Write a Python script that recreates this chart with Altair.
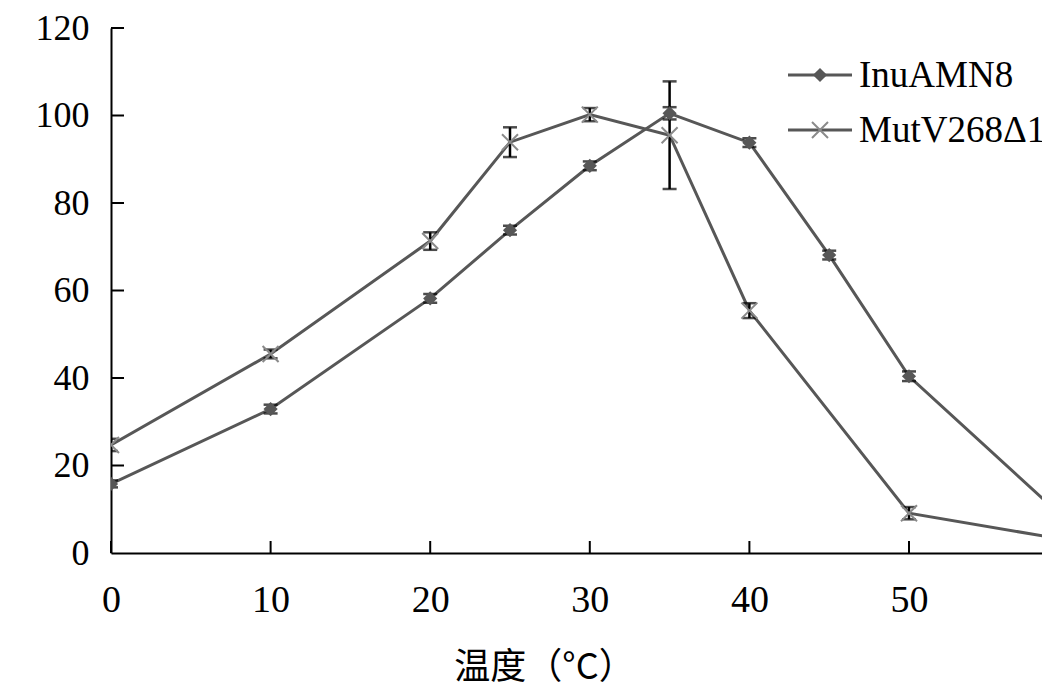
import altair as alt
import pandas as pd

# ---- data ----
temps_inu = [0, 10, 20, 25, 30, 35, 40, 45, 50, 60]
inu_vals = [15.8, 32.9, 58.2, 73.8, 88.5, 100.5, 93.8, 68.1, 40.4, 7.0]
inu_err = [0.8, 1.0, 1.0, 1.0, 1.0, 1.4, 1.0, 1.0, 1.1, 1.0]

temps_mut = [0, 10, 20, 25, 30, 35, 40, 50, 60]
mut_vals = [24.7, 45.5, 71.3, 93.9, 100.2, 95.5, 55.4, 9.1, 2.9]
mut_err = [1.4, 1.0, 2.0, 3.4, 1.5, 12.3, 1.7, 1.4, 1.0]

series_names = ["InuAMN8", "MutV268Δ13"]
x_ticks = [0, 10, 20, 30, 40, 50]
y_ticks = [20, 40, 60, 80, 100, 120]
x_title = "温度（°C）"

# ---- build tables ----
rows = []
for t, v, e in zip(temps_inu, inu_vals, inu_err):
    rows.append({"temp": t, "value": v, "lo": v - e, "hi": v + e, "series": series_names[0]})
for t, v, e in zip(temps_mut, mut_vals, mut_err):
    rows.append({"temp": t, "value": v, "lo": v - e, "hi": v + e, "series": series_names[1]})
df = pd.DataFrame(rows)
xt = pd.DataFrame({"t": x_ticks})
yt = pd.DataFrame({"t": y_ticks})

W, H = 931, 525
XMAX = W / 15.96

serif = "Liberation Serif"
LINE = "#575757"

xs = alt.Scale(domain=[0, XMAX], nice=False, zero=False)
ys = alt.Scale(domain=[0, 120], nice=False)

X = alt.X("temp:Q", scale=xs,
          axis=alt.Axis(values=x_ticks, title=x_title, format="d",
                        titleX=433, titleY=114, titleBaseline="middle", titleAlign="center"))
Y = alt.Y("value:Q", scale=ys,
          axis=alt.Axis(values=[0] + y_ticks, title=None, format="d", labelFontSize=36))

base = alt.Chart(df)

lines = base.mark_line(color=LINE, strokeWidth=3, clip=True).encode(
    x=X, y=Y, detail="series:N")

err_rule = base.mark_rule(color="black", strokeWidth=2.5, clip=True).encode(
    x=alt.X("temp:Q", scale=xs), y=alt.Y("lo:Q", scale=ys), y2="hi:Q")
cap_lo = base.mark_tick(color="black", orient="horizontal", size=14, thickness=2.5, clip=True).encode(
    x=alt.X("temp:Q", scale=xs), y=alt.Y("lo:Q", scale=ys))
cap_hi = base.mark_tick(color="black", orient="horizontal", size=14, thickness=2.5, clip=True).encode(
    x=alt.X("temp:Q", scale=xs), y=alt.Y("hi:Q", scale=ys))

XSHAPE = "M-1,-1L1,1M-1,1L1,-1"

pts_inu = base.transform_filter(alt.datum.series == series_names[0]).mark_point(
    shape="diamond", filled=True, size=200, color=LINE, opacity=1, clip=True).encode(
    x=alt.X("temp:Q", scale=xs), y=alt.Y("value:Q", scale=ys))
pts_mut = base.transform_filter(alt.datum.series == series_names[1]).mark_point(
    shape=XSHAPE, filled=False, size=256, stroke="#8a8a8a", strokeWidth=2, opacity=1, clip=True).encode(
    x=alt.X("temp:Q", scale=xs), y=alt.Y("value:Q", scale=ys))

xtick_marks = alt.Chart(xt).mark_rule(color="black", strokeWidth=2).encode(
    x=alt.X("t:Q", scale=xs), y=alt.value(H), y2=alt.value(H - 12))
ytick_marks = alt.Chart(yt).mark_rule(color="black", strokeWidth=2).encode(
    y=alt.Y("t:Q", scale=ys), x=alt.value(0), x2=alt.value(13))

# ---- legend ----
leg = []
leg_y = [47, 102]
for i, name in enumerate(series_names):
    d = pd.DataFrame({"name": [name]})
    c = alt.Chart(d)
    leg.append(c.mark_rule(color=LINE, strokeWidth=3).encode(
        x=alt.value(677), x2=alt.value(741), y=alt.value(leg_y[i])))
    if i == 0:
        leg.append(c.mark_point(shape="diamond", filled=True, size=200, color=LINE, opacity=1).encode(
            x=alt.value(709), y=alt.value(leg_y[i])))
    else:
        leg.append(c.mark_point(shape=XSHAPE, filled=False, size=256, stroke="#8a8a8a",
                                strokeWidth=2, opacity=1).encode(
            x=alt.value(709), y=alt.value(leg_y[i])))
    leg.append(c.mark_text(align="left", baseline="middle", font=serif, fontSize=37,
                           color="black").encode(
        x=alt.value(748), y=alt.value(leg_y[i] + 1), text="name:N"))

chart = alt.layer(
    lines, err_rule, cap_lo, cap_hi, pts_inu, pts_mut, xtick_marks, ytick_marks, *leg
).properties(
    width=W, height=H,
    autosize=alt.AutoSizeParams(type="none"),
    padding={"left": 103, "top": 20, "right": 0, "bottom": 139},
    background="white",
).configure_view(stroke=None).configure_axis(
    grid=False, ticks=False, tickSize=0, labelFlush=False,
    domainColor="black", domainWidth=2,
    labelFont=serif, labelFontSize=38, labelColor="black",
    titleFont="Noto Sans CJK SC", titleFontSize=36, titleFontWeight="normal", titleColor="black",
).configure_axisX(labelPadding=28
).configure_axisY(labelPadding=22)

chart.save("out.html", embed_options={"renderer": "svg", "actions": False})
